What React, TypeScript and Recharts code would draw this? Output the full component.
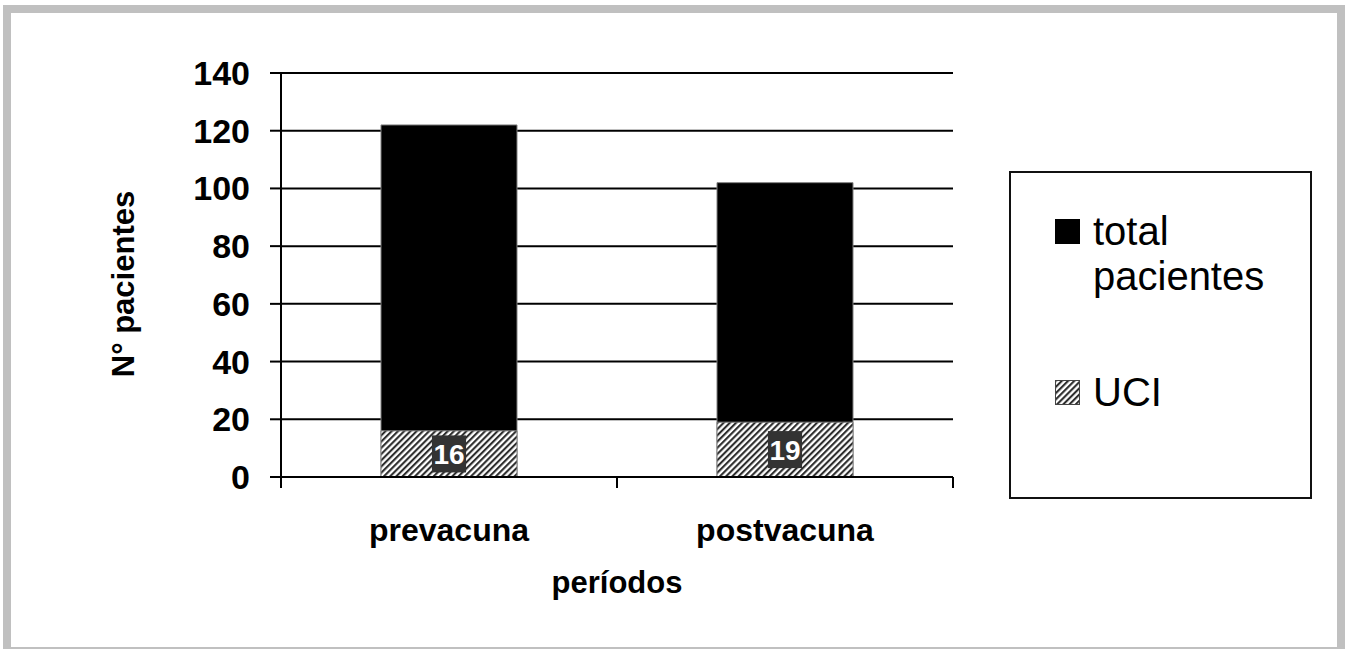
import React from "react";
import {
  BarChart,
  Bar,
  XAxis,
  YAxis,
  CartesianGrid,
  Legend,
  LabelList,
  Label,
} from "recharts";

const periods = ["prevacuna", "postvacuna"];
const totalPacientes = [122, 102];
const uciPacientes = [16, 19];
const yTicks = [0, 20, 40, 60, 80, 100, 120, 140];

const data = periods.map((period, i) => ({
  period,
  total: totalPacientes[i],
  uci: uciPacientes[i],
}));

const seriesOrder = ["total", "uci"];

const FONT = "'Liberation Sans', Arial, sans-serif";
const CHART_W = 1350;
const CHART_H = 649;
const MARGIN = { top: 73, right: 397, bottom: 112, left: 0 };
const Y_AXIS_W = 281;
const BAND = (CHART_W - MARGIN.right - Y_AXIS_W) / periods.length;

// hatch used by the UCI bars and their legend swatch
const HatchDefs = () => (
  <svg width={0} height={0} style={{ position: "absolute" }}>
    <defs>
      <pattern
        id="hatch"
        patternUnits="userSpaceOnUse"
        width={4.4}
        height={4.4}
        patternTransform="rotate(45)"
      >
        <rect width={4.4} height={4.4} fill="#fff" />
        <line x1={1.1} y1={0} x2={1.1} y2={4.4} stroke="#222" strokeWidth={2} />
      </pattern>
    </defs>
  </svg>
);

// category tick: tick marks on the band edges below the axis, label centred
const PeriodTick = (props: any) => {
  const { x, y, payload, index, visibleTicksCount } = props;
  const half = payload.offset || BAND / 2;
  return (
    <g>
      <line x1={x - half} x2={x - half} y1={y} y2={y + 11} stroke="#000" strokeWidth={2} />
      {index === visibleTicksCount - 1 && (
        <line x1={x + half} x2={x + half} y1={y} y2={y + 11} stroke="#000" strokeWidth={2} />
      )}
      <text
        x={x}
        y={y + 64}
        textAnchor="middle"
        fontFamily={FONT}
        fontWeight="bold"
        fontSize={32}
        fill="#000"
      >
        {payload.value}
      </text>
    </g>
  );
};

const ValueBox = (props: any) => {
  const { x, y, width, height, value } = props;
  const fs = 28;
  const w = String(value).length * fs * 0.556 + 3;
  const h = 37;
  const cx = x + width / 2;
  const cy = y + height / 2;
  return (
    <g>
      <rect x={cx - w / 2} y={cy - h / 2} width={w} height={h} fill="#333" />
      <text
        x={cx}
        y={cy + fs * 0.36}
        textAnchor="middle"
        fontFamily={FONT}
        fontWeight="bold"
        fontSize={fs}
        fill="#fff"
      >
        {value}
      </text>
    </g>
  );
};

const BoxLegend = ({ payload }: any) => {
  const items = [...(payload || [])].sort(
    (a: any, b: any) => seriesOrder.indexOf(a.dataKey) - seriesOrder.indexOf(b.dataKey)
  );
  return (
    <div
      style={{
        boxSizing: "border-box",
        width: "100%",
        height: "100%",
        border: "2px solid #111",
        background: "#fff",
        padding: "36px 0 0 44px",
        fontFamily: FONT,
        fontSize: 40,
        lineHeight: "45px",
        color: "#000",
      }}
    >
      {items.map((entry: any, i: number) => (
        <div key={entry.value} style={{ display: "flex", marginTop: i === 0 ? 0 : 71 }}>
          <svg width={25} height={25} style={{ marginTop: 10, flex: "none" }}>
            <rect
              x={0.5}
              y={0.5}
              width={24}
              height={24}
              fill={entry.color}
              stroke={i === 0 ? "#000" : "#444"}
            />
          </svg>
          <span style={{ marginLeft: 13, width: 200 }}>{entry.value}</span>
        </div>
      ))}
    </div>
  );
};

export default function App() {
  return (
    <div
      style={{
        position: "absolute",
        left: 0,
        top: 0,
        width: CHART_W,
        height: CHART_H,
        overflow: "hidden",
        background: "#fff",
      }}
    >
      <HatchDefs />
      <div
        style={{
          position: "absolute",
          left: 3,
          top: 5,
          width: 1342,
          height: 644,
          boxSizing: "border-box",
          border: "8px solid #c0c0c0",
          borderBottomWidth: 2,
        }}
      />
      <div style={{ position: "absolute", left: 0, top: 0 }}>
        <BarChart width={CHART_W} height={CHART_H} data={data} margin={MARGIN}>
          <CartesianGrid vertical={false} stroke="#000" strokeWidth={2} />
          {/* second category axis so the UCI bar sits over the total bar */}
          <XAxis xAxisId="back" dataKey="period" height={0} hide />
          <XAxis
            xAxisId="main"
            dataKey="period"
            height={60}
            interval={0}
            stroke="#000"
            strokeWidth={2}
            axisLine
            tickLine={false}
            tickSize={0}
            tickMargin={0}
            tick={<PeriodTick />}
          >
            <Label
              content={({ viewBox }: any) => (
                <text
                  x={viewBox.x + viewBox.width / 2}
                  y={viewBox.y + 116}
                  textAnchor="middle"
                  fontFamily={FONT}
                  fontWeight="bold"
                  fontSize={31}
                  fill="#000"
                >
                  períodos
                </text>
              )}
            />
          </XAxis>
          <YAxis
            width={Y_AXIS_W}
            domain={[0, 140]}
            ticks={yTicks}
            interval={0}
            stroke="#000"
            strokeWidth={2}
            axisLine
            tickLine
            tickSize={11}
            tickMargin={20}
            tick={{ fontFamily: FONT, fontWeight: "bold", fontSize: 34, fill: "#000", stroke: "none" }}
          >
            <Label
              content={({ viewBox }: any) => {
                const cx = 134;
                const cy = viewBox.y + viewBox.height / 2 + 9;
                return (
                  <text
                    x={cx}
                    y={cy}
                    transform={`rotate(-90 ${cx} ${cy})`}
                    textAnchor="middle"
                    fontFamily={FONT}
                    fontWeight="bold"
                    fontSize={31}
                    fill="#000"
                  >
                    N° pacientes
                  </text>
                );
              }}
            />
          </YAxis>
          <Legend
            layout="vertical"
            align="center"
            verticalAlign="middle"
            wrapperStyle={{ left: 1009, top: 171, width: 303, height: 328 }}
            content={<BoxLegend />}
          />
          <Bar
            xAxisId="back"
            dataKey="total"
            name="total pacientes"
            fill="#000"
            stroke="#808080"
            barSize={136}
            isAnimationActive={false}
          />
          <Bar
            xAxisId="main"
            dataKey="uci"
            name="UCI"
            fill="url(#hatch)"
            stroke="#808080"
            barSize={136}
            isAnimationActive={false}
          >
            <LabelList dataKey="uci" content={<ValueBox />} />
          </Bar>
        </BarChart>
      </div>
    </div>
  );
}
